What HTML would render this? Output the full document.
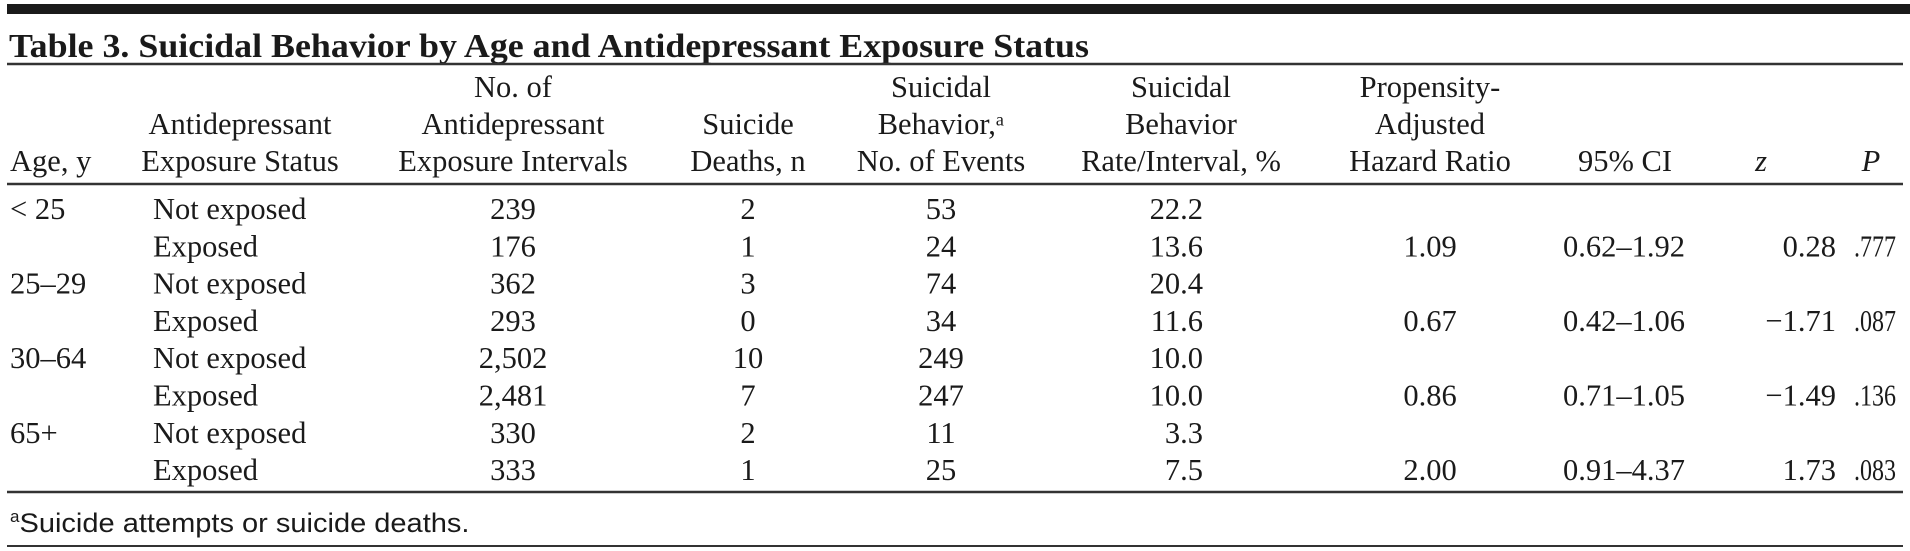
<!DOCTYPE html>
<html><head><meta charset="utf-8"><style>
html,body{margin:0;padding:0;background:#fff;}
svg{display:block;}
text{font-family:"Liberation Serif",serif;fill:#1a1a1a;}
</style></head><body>
<svg width="1910" height="551" viewBox="0 0 1910 551">
<rect x="7" y="4" width="1903" height="10" fill="#1a1a1a"/>
<text x="9" y="57" font-size="34" font-weight="bold" textLength="1080" lengthAdjust="spacingAndGlyphs">Table 3. Suicidal Behavior by Age and Antidepressant Exposure Status</text>
<line x1="7" y1="64" x2="1903" y2="64" stroke="#333" stroke-width="2.5"/>
<g id="hdr" font-size="30.5"></g>
<line x1="7" y1="184" x2="1903" y2="184" stroke="#333" stroke-width="2.5"/>
<g id="body" font-size="30.5"></g>
<line x1="7" y1="492" x2="1903" y2="492" stroke="#333" stroke-width="2.5"/>
<text x="10" y="532" font-size="27" style="font-family:'Liberation Sans',sans-serif"><tspan font-size="17" dy="-10">a</tspan><tspan dy="10" textLength="450" lengthAdjust="spacingAndGlyphs">Suicide attempts or suicide deaths.</tspan></text>
<line x1="7" y1="546" x2="1903" y2="546" stroke="#333" stroke-width="2"/>
</svg>
<script>
const ages=["< 25","","25–29","","30–64","","65+",""];
const status=["Not exposed","Exposed","Not exposed","Exposed","Not exposed","Exposed","Not exposed","Exposed"];
const intervals=["239","176","362","293","2,502","2,481","330","333"];
const deaths=["2","1","3","0","10","7","2","1"];
const events=["53","24","74","34","249","247","11","25"];
const rates=["22.2","13.6","20.4","11.6","10.0","10.0","3.3","7.5"];
const hrs=["","1.09","","0.67","","0.86","","2.00"];
const cis=["","0.62–1.92","","0.42–1.06","","0.71–1.05","","0.91–4.37"];
const zs=["","0.28","","−1.71","","−1.49","","1.73"];
const ps=["",".777","",".087","",".136","",".083"];
const NS="http://www.w3.org/2000/svg";
function t(g,x,y,s,anchor,name,italic){
  const e=document.createElementNS(NS,"text");
  e.setAttribute("x",x);e.setAttribute("y",y);
  e.setAttribute("text-anchor",anchor);
  if(italic)e.setAttribute("font-style","italic");
  e.textContent=s.trim();
  
  
  g.appendChild(e);return e;
}
const hdr=document.getElementById("hdr");
const L=[97,134,171];
const heads=[
 [10,"start",["","","Age, y"]],
 [240,"middle",["","Antidepressant","Exposure Status"]],
 [513,"middle",["No. of","Antidepressant","Exposure Intervals"]],
 [748,"middle",["","Suicide","Deaths, n"]],
 [941,"middle",["Suicidal","Behavior,ᵃ","No. of  Events"]],
 [1181,"middle",["Suicidal","Behavior","Rate/Interval, %"]],
 [1430,"middle",["Propensity-","Adjusted","Hazard Ratio"]],
 [1625,"middle",["","","95% CI"]],
 [1761,"middle",["","","z"]],
 [1871,"middle",["","","P"]]
];
heads.forEach((h,i)=>h[2].forEach((s,j)=>{if(s)t(hdr,h[0],L[j],s,h[1],"header-cell",i>=8);}));
const body=document.getElementById("body");
const y0=219,dy=37.3;
status.forEach((s,i)=>{
  const y=y0+i*dy;
  if(ages[i])t(body,10,y,ages[i],"start","age-cell");
  t(body,153,y,s,"start","status-cell");
  t(body,513,y,intervals[i],"middle","intervals-cell");
  t(body,748,y,deaths[i],"middle","deaths-cell");
  t(body,941,y,events[i],"middle","events-cell");
  t(body,1203,y,rates[i],"end","rate-cell");
  if(hrs[i])t(body,1430,y,hrs[i],"middle","hazard-ratio-cell");
  if(cis[i])t(body,1624,y,cis[i],"middle","ci-cell");
  if(zs[i])t(body,1836,y,zs[i],"end","z-cell");
  if(ps[i]){const e=t(body,1896,y,ps[i],"end","p-cell");e.setAttribute("textLength","42");e.setAttribute("lengthAdjust","spacingAndGlyphs");}
});
</script>
</body></html>
